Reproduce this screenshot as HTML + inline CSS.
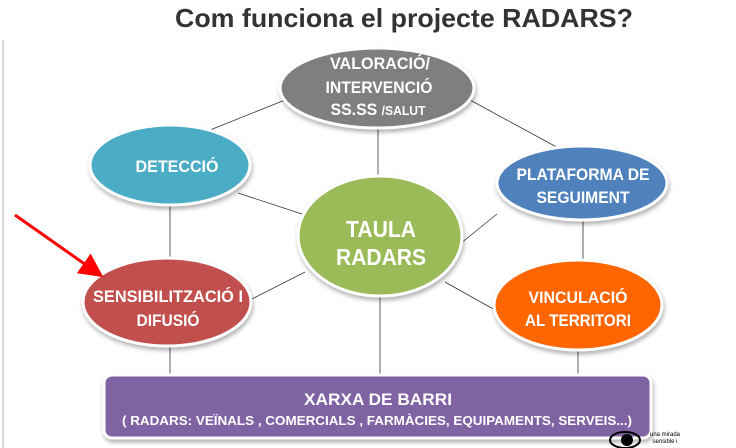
<!DOCTYPE html>
<html><head><meta charset="utf-8"><style>
html,body{margin:0;padding:0;background:#fff;}
svg{display:block;}
text{font-family:"Liberation Sans",sans-serif;font-weight:bold;fill:#fff;text-anchor:middle;}
</style></head><body>
<svg width="736" height="448" viewBox="0 0 736 448" xmlns="http://www.w3.org/2000/svg">
<defs>
<filter id="sh" x="-20%" y="-20%" width="140%" height="150%"><feDropShadow dx="1" dy="3" stdDeviation="2" flood-color="#000" flood-opacity="0.3"/></filter>
<marker id="ah" markerWidth="8" markerHeight="8" refX="5" refY="4" orient="auto" markerUnits="strokeWidth"><path d="M0,0 L8,4 L0,8 z" fill="#ff0000"/></marker>
</defs>
<line x1="3" y1="40" x2="3" y2="448" stroke="#ccc" stroke-width="1.5"/>
<text x="404" y="27" style="fill:#333;font-size:26px;" textLength="458" lengthAdjust="spacingAndGlyphs">Com funciona el projecte RADARS?</text>
<g stroke="#333" stroke-width="0.8">
<line x1="285" y1="100" x2="210" y2="130"/>
<line x1="470" y1="100" x2="562" y2="150"/>
<line x1="378" y1="120" x2="378" y2="180"/>
<line x1="238" y1="193" x2="305" y2="215"/>
<line x1="170" y1="205" x2="170" y2="262"/>
<line x1="250" y1="300" x2="305" y2="272"/>
<line x1="455" y1="248" x2="497" y2="214"/>
<line x1="583" y1="218" x2="583" y2="262"/>
<line x1="445" y1="282" x2="495" y2="310"/>
<line x1="170" y1="345" x2="170" y2="378"/>
<line x1="380" y1="295" x2="380" y2="378"/>
<line x1="578" y1="348" x2="578" y2="378"/>
</g>
<g stroke="#fff" stroke-width="3" filter="url(#sh)">
<ellipse cx="377" cy="88" rx="97" ry="40" fill="#7f7f7f"/>
<ellipse cx="170" cy="165" rx="80" ry="40" fill="#4bacc6"/>
<ellipse cx="582" cy="183" rx="85" ry="37" fill="#4f81bd"/>
<ellipse cx="380" cy="236" rx="82" ry="60" fill="#9bbb59"/>
<ellipse cx="167" cy="302" rx="84" ry="44" fill="#c0504d"/>
<ellipse cx="578" cy="305" rx="84" ry="45" fill="#ff6600"/>
<rect x="104" y="375" width="547" height="63" rx="8" fill="#8064a2"/>
</g>
<g font-size="17">
<text x="380" y="69" textLength="100" lengthAdjust="spacingAndGlyphs">VALORACIÓ/</text>
<text x="379" y="93" textLength="107" lengthAdjust="spacingAndGlyphs">INTERVENCIÓ</text>
<text x="378" y="115" textLength="95" lengthAdjust="spacingAndGlyphs">SS.SS <tspan font-size="13">/SALUT</tspan></text>
<text x="177" y="172" textLength="83" lengthAdjust="spacingAndGlyphs">DETECCIÓ</text>
<text x="583" y="180" textLength="133" lengthAdjust="spacingAndGlyphs">PLATAFORMA DE</text>
<text x="583" y="203" textLength="93" lengthAdjust="spacingAndGlyphs">SEGUIMENT</text>
<text x="168" y="302" textLength="150" lengthAdjust="spacingAndGlyphs">SENSIBILITZACIÓ I</text>
<text x="168" y="326" textLength="63" lengthAdjust="spacingAndGlyphs">DIFUSIÓ</text>
<text x="578" y="303" textLength="99" lengthAdjust="spacingAndGlyphs">VINCULACIÓ</text>
<text x="578" y="326" textLength="106" lengthAdjust="spacingAndGlyphs">AL TERRITORI</text>
<text x="378" y="405" textLength="148" lengthAdjust="spacingAndGlyphs">XARXA DE BARRI</text>
</g>
<text x="381" y="237" font-size="23" textLength="70" lengthAdjust="spacingAndGlyphs">TAULA</text>
<text x="381" y="265" font-size="23" textLength="90" lengthAdjust="spacingAndGlyphs">RADARS</text>
<text x="377" y="425" font-size="13" textLength="510" lengthAdjust="spacingAndGlyphs">( RADARS: VEÏNALS , COMERCIALS , FARMÀCIES, EQUIPAMENTS, SERVEIS...)</text>
<line x1="15" y1="215" x2="96" y2="272" stroke="#ff0000" stroke-width="3" marker-end="url(#ah)"/>
<ellipse cx="625" cy="440" rx="15" ry="8" fill="none" stroke="#000" stroke-width="2"/>
<circle cx="627" cy="440" r="6" fill="#000"/>
<text x="665" y="436" style="fill:#000;font-size:6px;font-weight:normal;">una mirada</text>
<text x="665" y="443" style="fill:#000;font-size:6px;font-weight:normal;">sensible i</text>
</svg>
</body></html>
